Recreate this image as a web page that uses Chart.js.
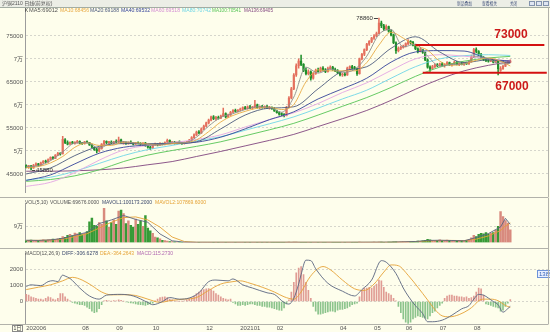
<!DOCTYPE html>
<html>
<head>
<meta charset="utf-8">
<script src="https://cdn.jsdelivr.net/npm/chart.js"></script>
<style>
  body { margin: 0; background: #fefeec; }
  #wrap { position: relative; width: 550px; height: 332px; overflow: hidden; }
  canvas { position: absolute; left: 0; }
</style>
</head>
<body>
<div id="wrap">
  <canvas id="kline" width="550" height="198" style="top:0"></canvas>
  <canvas id="vol" width="550" height="50" style="top:198px"></canvas>
  <canvas id="macd" width="550" height="84" style="top:248px"></canvas>
</div>
<script>
// daily candles, [open, high, low, close]
const ohlc = [
  [46800,47000,46300,46500],[46500,46900,46200,46800],[46700,46900,45880,46300],[46300,47100,46200,46900],[46900,47400,46800,47200],
  [47200,47300,46700,46900],[46900,47600,46800,47400],[47400,47900,47300,47800],[47800,48000,47400,47600],[47600,48300,47500,48100],
  [48100,48700,48000,48600],[48600,48800,48200,48400],[48400,49200,48300,49100],[49100,49700,49000,49500],[49500,49600,49100,49300],
  [49400,53200,49300,52500],[52400,52700,51600,51800],[51800,52200,51300,51500],[51500,52000,51400,51900],[51900,52100,51600,51700],
  [51700,52000,51500,51800],[51800,52300,51700,52100],[52100,52200,51600,51700],[51700,51900,51400,51600],[51600,52100,51500,52000],
  [52000,52200,51700,51800],[51800,51900,51200,51300],[51300,51500,50700,50800],[50800,50900,50100,50300],[50300,50600,49600,50000],
  [50000,50800,49800,50600],[50500,51600,50400,51500],[51500,52300,51400,52100],[52100,52200,51600,51800],[51800,52100,51500,51900],
  [51900,52200,51600,51700],[51700,52100,51600,52000],[52000,52400,51800,51900],[51900,53000,51800,52400],[52400,52600,51700,51800],
  [51800,52100,51500,51900],[51900,52000,51400,51600],[51600,52000,51500,51800],[51800,52200,51600,51700],[51700,51900,51300,51500],
  [51500,51900,51400,51800],[51800,52000,51500,51600],[51600,51800,51300,51400],[51400,51800,51200,51700],[51700,51900,51000,51200],
  [51200,51300,50600,50800],[50800,51000,50300,50600],[50600,51400,50500,51300],[51300,51700,51200,51500],[51500,51600,51100,51300],
  [51300,51800,51200,51600],[51600,51700,51300,51400],[51400,52000,51300,51900],[51900,52600,51800,52300],[52300,52400,51700,51800],
  [51800,52000,51600,51900],[51900,52100,51500,51600],[51600,52000,51500,51900],[51900,52200,51700,51800],[51800,51900,51400,51600],
  [51600,52000,51500,51900],[51900,52100,51700,52000],[52000,52500,51900,52300],[52300,53100,52200,52900],[52900,53700,52800,53500],
  [53500,54300,53300,54100],[54100,54400,53700,53900],[53900,55000,53800,54800],[54800,55600,54600,55400],[55400,56300,55200,56100],
  [56100,56900,55900,56700],[56700,57600,56500,57400],[57400,57700,56800,57000],[57000,57500,56700,57300],[57300,57600,56900,57100],
  [57100,57800,57000,57600],[57600,59300,57500,58100],[58100,58300,57200,57400],[57400,58000,57300,57800],[57800,58600,57700,58400],
  [58400,59000,58300,58800],[58800,59100,58400,58600],[58600,59000,58500,58900],[58900,59300,58700,59100],[59100,59600,58900,59400],
  [59400,59700,59000,59200],[59200,59800,59100,59600],[59600,59900,59200,59300],[59300,59700,59100,59500],[59500,61000,59400,60000],
  [60000,60200,59300,59400],[59400,59800,59200,59600],[59600,59900,59300,59400],[59400,59800,59200,59700],[59700,59900,59200,59300],
  [59300,59700,59100,59500],[59500,59600,59000,59200],[59200,59400,58600,58700],[58700,58900,58200,58300],[58300,58500,57800,58000],
  [58000,58300,57600,57900],[57900,58100,57400,57700],[57700,59700,57600,59500],[59500,61800,59400,61500],[61500,63800,61300,63500],
  [63500,66800,63300,66500],[66500,68900,66200,68500],[68500,70000,68000,69500],[69500,70800,68500,68800],[68800,69000,67200,67500],
  [67500,68000,66500,66800],[66800,67600,66500,67200],[67200,67400,65400,65800],[65800,67000,65600,66800],[66800,67800,66600,67500],
  [67500,68000,67100,67300],[67300,68200,67200,68000],[68000,68300,67400,67600],[67600,67900,67000,67200],[67200,68200,67100,67900],
  [67900,68500,67700,68200],[68200,68400,67500,67700],[67700,68000,67200,67400],[67400,67700,66800,67000],[67000,67200,66300,66500],
  [66500,66900,66200,66700],[66700,67000,66300,66500],[66500,68200,66400,68000],[68000,68500,67700,68300],[68300,68600,67800,68000],
  [68000,68400,67600,67900],[67900,68000,66400,66800],[66800,70200,66700,70000],[70000,71200,69800,71000],[71000,72200,70700,72000],
  [72000,73400,71800,73200],[73200,74000,72900,73800],[73800,74700,73500,74500],[74500,75300,74200,75000],[75000,75800,74800,75500],
  [75500,78860,75400,77800],[77800,78200,76800,77200],[77200,77500,76200,76500],[76500,77400,76300,77000],[77000,77100,75800,76000],
  [76000,76300,75000,75200],[75200,75400,73300,73500],[73500,73700,71200,71800],[71800,72600,71500,72300],[72300,72800,72000,72500],
  [72500,73000,72300,72800],[72800,73500,72600,73300],[73300,74200,73100,73800],[73800,74000,73200,73600],[73600,73800,72800,73000],
  [73000,73100,72000,72200],[72200,72400,71300,71600],[71600,72300,71500,72000],[72000,72100,71200,71400],[71400,71500,69600,69800],
  [69800,70000,68000,68200],[68200,68500,67300,67800],[67800,68600,67700,68300],[68300,68900,68100,68700],[68700,69000,68300,68500],
  [68500,69100,68400,68900],[68900,69200,68500,68600],[68600,68900,68200,68800],[68800,69400,68700,69200],[69200,69300,68600,68700],
  [68700,69000,68400,68900],[68900,69500,68800,69300],[69300,69400,68700,68800],[68800,69100,68500,69000],[69000,69300,68700,68800],
  [68800,69200,68600,69100],[69100,69300,68800,68900],[68900,69600,68800,69400],[69400,70800,69300,70500],[70500,72300,70400,72000],
  [72000,72400,71300,71600],[71600,71800,70800,71000],[71000,71200,70000,70200],[70200,70500,69600,69800],[69800,70100,69400,69600],
  [69600,69900,69300,69500],[69500,70100,69400,69800],[69800,69900,69100,69300],[69300,69800,69200,69500],[69500,69600,66500,67900],
  [67500,68300,67300,67900],[67900,68600,67700,68400],[68400,69200,68300,69000],[69000,69700,68900,69600],[69300,69800,69200,69500]
];

const volume = [
  9000,11000,13000,8000,10000,12000,9000,14000,12000,15000,
  16000,18000,15000,20000,22000,32000,28000,40000,45000,38000,
  52000,48000,55000,44000,50000,60000,115000,136000,95000,90000,
  110000,100000,189000,120000,85000,110000,125000,100000,175000,180000,
  160000,105000,120000,95000,85000,130000,100000,120000,90000,150000,
  80000,65000,50000,30000,25000,20000,12000,10000,8000,5000,
  4000,2500,1800,1200,900,800,700,900,600,700,
  800,600,700,500,900,700,600,800,700,600,
  700,900,600,800,700,600,900,700,800,600,
  700,800,600,900,700,800,600,700,900,700,
  800,600,700,900,800,700,600,1000,1200,900,
  1100,1300,900,800,700,800,900,700,600,800,
  700,600,800,700,900,600,700,800,600,700,
  800,700,900,600,700,800,1000,1200,900,800,
  900,1000,800,1100,900,1200,1500,1000,900,1100,
  1500,2500,3000,2000,3500,4000,3000,5000,4000,6000,
  5000,7000,6000,9000,12000,17000,14000,10000,8000,12000,
  15000,11000,9000,13000,10000,8000,11000,9000,7000,10000,
  8000,12000,14000,25000,40000,32000,45000,50000,48000,54000,
  46000,52000,55000,68000,90000,171000,144000,121000,108000,69676
];

// moving averages, sampled at knot days
const fastIdx = [0,5,10,15,20,25,30,35,40,45,50,55,60,65,70,75,80,85,90,95,100,105,110,115,120,125,130,135,140,145,150,155,160,165,170,175,180,185,190,195,199];
const ma5 = [46600,46800,47900,49800,51700,51800,50600,51800,52000,51700,51300,51300,51900,51800,53000,55400,57300,58100,59000,59600,59500,58400,61700,68200,66900,67800,67100,67700,70600,75300,76400,72600,73200,70600,68400,68800,68900,70500,70000,68900,69012];
const ma10 = [46400,46600,47400,48800,50800,51800,51200,51200,51900,51800,51500,51300,51600,51800,52400,54200,56300,57700,58600,59300,59500,59000,60100,65000,67600,67400,67400,67400,69200,73000,75800,74500,72900,71900,69500,68600,68900,69700,70200,69500,68456];

const maIdx = [0,10,20,30,40,50,60,70,80,90,100,110,120,130,140,150,160,170,180,190,199];
const ma20 = [45000,46300,49000,51000,51600,51600,51600,52000,54800,57800,59300,59600,63500,67300,68300,72300,74800,71500,69200,69800,69188];
const ma40 = [43600,44800,47200,49500,50800,51300,51600,51900,53000,54800,56800,58500,61300,63500,65800,69300,71500,71800,71700,70000,69532];
const ma60 = [42300,43200,45300,48000,50200,51200,51800,52500,53500,55200,56800,58300,60300,62700,64800,67500,70000,70900,70600,70000,69518];
const ma80 = [43700,44300,45600,47300,49000,50300,51200,52200,53100,54500,55900,57400,59300,61300,63200,65800,68300,70000,70700,70900,70742];
const ma100 = [43400,43800,44600,45900,47700,49100,50100,51000,52000,53300,54600,56000,57800,59700,61600,63800,66200,68200,69500,70200,70541];
const ma136 = [45600,45600,45700,45900,46300,47000,47700,48800,49900,51100,52300,53600,55300,57000,58800,61000,63400,65600,67400,68600,69405];

// volume averages, [day, value]
const mavol1 = [[0,12000],[5,11000],[10,14000],[15,22000],[20,40000],[25,56000],[30,105000],[35,125000],[40,150000],[45,128000],[50,112000],[55,47000],[60,9000],[65,1200],[70,700],[100,800],[130,800],[150,1500],[155,3000],[160,5000],[165,11000],[170,12000],[175,10500],[180,9000],[185,27000],[190,49000],[195,86000],[197,134000],[199,100173.2]];
const mavol2 = [[0,11000],[5,11500],[10,13000],[15,18000],[20,32000],[25,48000],[30,80000],[35,112000],[40,138000],[45,142000],[50,125000],[55,85000],[60,30000],[65,5000],[70,1000],[100,800],[130,800],[150,1000],[155,2300],[160,4000],[165,8000],[170,11000],[175,11000],[180,10000],[185,18000],[190,36000],[195,66000],[197,92000],[199,107869.6]];

// MACD(12,26,9)
const dif = [[0,950],[2,1050],[6,1000],[9,1250],[11,1310],[13,1250],[15,1660],[16,1600],[18,1450],[22,850],[26,350],[30,150],[33,400],[39,450],[44,350],[50,-60],[52,-200],[56,0],[59,250],[63,150],[67,220],[71,550],[75,1250],[78,1350],[83,1300],[85,1420],[89,1050],[93,850],[99,550],[102,450],[106,-60],[108,-160],[110,200],[112,1100],[113,1700],[115,2600],[117,2570],[119,2060],[124,1150],[130,650],[135,350],[138,750],[142,1350],[146,2570],[148,2470],[152,1760],[155,850],[157,350],[160,-260],[163,-760],[165,-1270],[167,-1270],[171,-1170],[175,-860],[179,-460],[182,-260],[184,150],[186,450],[188,400],[192,0],[194,-200],[196,-670],[198,-440],[199,-306.6278]];
const dea = [[0,750],[5,900],[10,1050],[15,1300],[19,1520],[23,1350],[27,1000],[31,600],[35,420],[40,430],[45,380],[50,150],[55,-50],[60,80],[65,150],[70,250],[75,700],[80,1100],[85,1250],[88,1300],[92,1150],[97,900],[102,600],[106,300],[110,150],[113,600],[116,1400],[119,1950],[122,2200],[125,2000],[130,1350],[135,800],[139,700],[143,1100],[147,1850],[150,2300],[153,2250],[157,1650],[161,900],[165,100],[168,-500],[171,-900],[174,-960],[178,-820],[182,-500],[184,-260],[186,50],[188,150],[191,150],[194,50],[197,-250],[199,-364.2643]];
const macdHist = [
  450,400,300,250,200,150,150,100,200,300,
  250,150,100,200,500,500,300,150,50,-50,
  -100,-150,-200,-200,-250,-350,-450,-600,-700,-650,
  -450,-200,50,80,50,30,60,40,100,80,
  20,-30,-60,-80,-100,-150,-180,-200,-220,-250,
  -200,-150,-100,50,150,250,280,300,250,150,
  100,50,30,20,30,50,100,150,250,350,
  500,600,700,750,800,810,750,650,500,400,
  300,200,150,100,150,-50,-150,-250,-250,-200,
  -250,-200,-150,-150,-200,-250,-250,-300,-300,-350,
  -350,-400,-450,-500,-550,-560,-400,-150,100,600,
  1200,1800,2100,2200,1700,1200,700,200,-300,-600,
  -800,-800,-750,-700,-650,-600,-600,-650,-550,-500,
  -500,-450,-400,-300,-200,-150,-100,300,700,850,
  850,900,850,950,1100,1350,1300,900,600,500,
  400,200,50,-300,-700,-1100,-1300,-1370,-1300,-1100,
  -1000,-900,-950,-1000,-1050,-1100,-900,-700,-600,-400,
  -250,-100,200,350,400,400,350,350,300,300,
  250,300,200,250,350,600,850,800,400,-150,
  -200,-250,-300,-350,-400,-600,-550,-300,-100,115.273
];

// support / resistance levels
const levels = [73000, 67000];

const priceTicks = [45000, 50000, 55000, 60000, 65000, 70000, 75000];
const volTicks = [90000];
const macdTicks = [0, 1000, 2000];
const monthTicks = { 0: '202006', 23: '08', 37: '09', 52: '10', 74: '12', 88: '202101', 103: '02', 129: '04', 143: '05', 156: '06', 170: '07', 184: '08' };

const SLOTS = 215; // trading days plus blank room on the right
const slotLabels = Array.from({ length: SLOTS }, (_, i) => i);
const FONT = '"Liberation Sans", "Noto Sans CJK SC", sans-serif';

const UP = '#e4705e', DOWN = '#1f8f2a';
const VOL_UP = '#d88a7e', VOL_DOWN = '#369a36';
const HIST_UP = '#e09c94', HIST_DOWN = '#8cc48c';

const maSeries = [
  { name: 'MA5', color: '#8c8c8c', idx: fastIdx, vals: ma5 },
  { name: 'MA10', color: '#e8aa45', idx: fastIdx, vals: ma10 },
  { name: 'MA20', color: '#4d5b7e', idx: maIdx, vals: ma20 },
  { name: 'MA40', color: '#34439a', idx: maIdx, vals: ma40 },
  { name: 'MA60', color: '#e3a6e3', idx: maIdx, vals: ma60 },
  { name: 'MA80', color: '#6fd6e6', idx: maIdx, vals: ma80 },
  { name: 'MA100', color: '#55c455', idx: maIdx, vals: ma100 },
  { name: 'MA136', color: '#80457f', idx: maIdx, vals: ma136 }
];
const maLegendX = [29, 60, 90, 121, 151, 182, 212, 244];

function spread(idx, vals) {
  const out = new Array(SLOTS).fill(null);
  idx.forEach((k, j) => { out[k] = vals[j]; });
  return out;
}
function spreadPairs(pairs) {
  return spread(pairs.map(p => p[0]), pairs.map(p => p[1]));
}

const isUp = ohlc.map(d => d[3] >= d[0]);

function sideAxis(min, max, ticks, fmt) {
  return {
    position: 'left', min, max,
    afterFit: s => { s.width = 25; },
    afterBuildTicks: s => { s.ticks = ticks.map(v => ({ value: v })); },
    ticks: { callback: fmt, font: { size: 6, family: FONT }, color: '#555', padding: 2 },
    grid: { color: '#d6d6cc', drawTicks: false },
    border: { display: true, color: '#9c9c9c', dash: [2, 2] }
  };
}
const wanFmt = v => (v % 10000 === 0 ? v / 10000 + '万' : String(v));

const hiddenX = { type: 'category', labels: slotLabels, offset: true, display: false };

const baseOpts = {
  responsive: false,
  animation: false,
  devicePixelRatio: 1,
  events: [],
  plugins: { legend: { display: false }, tooltip: { enabled: false } }
};

function frame(ctx, yTop, yBottom) {
  ctx.strokeStyle = '#b2b2aa';
  ctx.lineWidth = 1;
  ctx.beginPath();
  if (yBottom !== null) { ctx.moveTo(0, yBottom); ctx.lineTo(548, yBottom); }
  ctx.moveTo(548.5, yTop); ctx.lineTo(548.5, yBottom === null ? 84 : yBottom);
  ctx.stroke();
}

// ---------- price panel ----------
const klineDecor = {
  id: 'klineDecor',
  beforeDraw(chart) {
    const ctx = chart.ctx;
    ctx.save();
    ctx.fillStyle = '#eceee6';
    ctx.fillRect(0, 0, 550, 7);
    ctx.strokeStyle = '#a3ada3';
    ctx.beginPath(); ctx.moveTo(0, 7.5); ctx.lineTo(550, 7.5); ctx.stroke();
    ctx.font = '5px ' + FONT;
    ctx.textBaseline = 'middle';
    ctx.fillStyle = '#555';
    ctx.fillText('沪铜2110 日线(前复权)', 2, 3.6, 54);
    ctx.fillStyle = '#3f4f7a';
    [['新品叠加', 457, 15], ['查看相关', 482, 15], ['关闭', 510, 7]].forEach(([t, x, w]) => ctx.fillText(t, x, 3.6, w));
    ctx.strokeStyle = '#8393ad';
    ctx.fillStyle = '#dfe6f2';
    [529, 536, 543].forEach(x => { ctx.fillRect(x + 0.5, 1.5, 5, 4); ctx.strokeRect(x + 0.5, 1.5, 5, 4); });
    ctx.restore();
  },
  afterDraw(chart) {
    const { ctx, scales: { x, y } } = chart;
    ctx.save();
    ctx.textBaseline = 'middle';
    ctx.font = '6px ' + FONT;
    ctx.fillStyle = '#222';
    ctx.fillText('K', 25, 10.8, 3);
    maSeries.forEach((s, i) => {
      ctx.fillStyle = s.color === '#e3a6e3' ? '#d48fd4' : s.color === '#8c8c8c' ? '#555' : s.color;
      ctx.fillText(s.name + ':' + s.vals[s.vals.length - 1], maLegendX[i], 10.8, 29);
    });

    // highest high and lowest low
    let hi = 0, lo = 0;
    ohlc.forEach((d, i) => { if (d[1] > ohlc[hi][1]) hi = i; if (d[2] < ohlc[lo][2]) lo = i; });
    ctx.strokeStyle = '#444';
    ctx.fillStyle = '#333';
    let px = x.getPixelForValue(hi), py = Math.round(y.getPixelForValue(ohlc[hi][1])) + 0.5;
    ctx.beginPath(); ctx.moveTo(px - 5, py); ctx.lineTo(px - 1, py); ctx.stroke();
    ctx.textAlign = 'right';
    ctx.fillText(String(ohlc[hi][1]), px - 6, py);
    px = x.getPixelForValue(lo); py = Math.round(y.getPixelForValue(ohlc[lo][2])) + 0.5;
    ctx.beginPath(); ctx.moveTo(px + 1, py); ctx.lineTo(px + 4, py); ctx.stroke();
    ctx.textAlign = 'left';
    ctx.fillText(String(ohlc[lo][2]), px + 5, py);

    // level captions
    ctx.font = 'bold 12px "Liberation Sans", sans-serif';
    ctx.textAlign = 'center';
    ctx.fillStyle = '#cc1a1a';
    ctx.fillText(String(levels[0]), 511, y.getPixelForValue(levels[0]) - 10);
    ctx.fillText(String(levels[1]), 512, y.getPixelForValue(levels[1]) + 14);

    frame(ctx, 7, 197.5);
    ctx.restore();
  }
};

new Chart(document.getElementById('kline'), {
  type: 'bar',
  data: {
    labels: slotLabels,
    datasets: [
      {
        data: ohlc.map(d => [d[2], d[1]]),
        backgroundColor: isUp.map(u => (u ? UP : DOWN)),
        barThickness: 0.9, grouped: false, order: 3
      },
      {
        data: ohlc.map(d => [d[0], d[3]]),
        backgroundColor: isUp.map(u => (u ? UP : DOWN)),
        barThickness: 1.5, minBarLength: 1, grouped: false, order: 2
      },
      ...maSeries.map(s => ({
        type: 'line', data: spread(s.idx, s.vals), borderColor: s.color, borderWidth: 0.9,
        pointRadius: 0, spanGaps: true, cubicInterpolationMode: 'monotone', order: 1
      })),
      { type: 'line', data: spread([160, 213], [levels[0], levels[0]]), borderColor: '#d41010', borderWidth: 2, pointRadius: 0, spanGaps: true, order: 0 },
      { type: 'line', data: spread([163, 214], [levels[1], levels[1]]), borderColor: '#d41010', borderWidth: 2, pointRadius: 0, spanGaps: true, order: 0 }
    ]
  },
  options: {
    ...baseOpts,
    layout: { padding: { top: 8, right: 2, left: 0, bottom: 0 } },
    scales: { x: hiddenX, y: sideAxis(41000, 81050, priceTicks, wanFmt) }
  },
  plugins: [klineDecor]
});

// ---------- volume panel ----------
const volDecor = {
  id: 'volDecor',
  afterDraw(chart) {
    const ctx = chart.ctx;
    ctx.save();
    ctx.textBaseline = 'middle';
    ctx.font = '6px ' + FONT;
    const items = [
      ['VOL(5,10)', 25, 23, '#555'],
      ['VOLUME:' + volume[volume.length - 1].toFixed(4), 50, 49, '#555'],
      ['MAVOL1:' + mavol1[mavol1.length - 1][1].toFixed(4), 102, 50, '#39476b'],
      ['MAVOL2:' + mavol2[mavol2.length - 1][1].toFixed(4), 155, 51, '#e5a235']
    ];
    items.forEach(([t, x, w, c]) => { ctx.fillStyle = c; ctx.fillText(t, x, 4.5, w); });
    frame(ctx, 0, null);
    ctx.restore();
  }
};

new Chart(document.getElementById('vol'), {
  type: 'bar',
  data: {
    labels: slotLabels,
    datasets: [
      {
        data: volume,
        backgroundColor: isUp.map(u => (u ? VOL_UP : VOL_DOWN)),
        barThickness: 1.8, order: 2
      },
      { type: 'line', data: spreadPairs(mavol1), borderColor: '#5a6580', borderWidth: 0.9, pointRadius: 0, spanGaps: true, order: 1 },
      { type: 'line', data: spreadPairs(mavol2), borderColor: '#e5a235', borderWidth: 0.9, pointRadius: 0, spanGaps: true, order: 1 }
    ]
  },
  options: {
    ...baseOpts,
    layout: { padding: { top: 1, right: 2, left: 0, bottom: 1 } },
    scales: { x: hiddenX, y: sideAxis(0, 216000, volTicks, wanFmt) }
  },
  plugins: [volDecor]
});

// ---------- MACD panel ----------
const macdDecor = {
  id: 'macdDecor',
  afterDraw(chart) {
    const ctx = chart.ctx;
    ctx.save();
    ctx.strokeStyle = '#b2b2aa';
    ctx.beginPath(); ctx.moveTo(0, 0.5); ctx.lineTo(548, 0.5); ctx.stroke();
    ctx.textBaseline = 'middle';
    ctx.font = '6px ' + FONT;
    const items = [
      ['MACD(12,26,9)', 25, 35, '#555'],
      ['DIFF:' + dif[dif.length - 1][1].toFixed(4), 62, 36, '#39476b'],
      ['DEA:' + dea[dea.length - 1][1].toFixed(4), 100, 34, '#e5a235'],
      ['MACD:' + macdHist[macdHist.length - 1].toFixed(4), 137, 36, '#b066b0']
    ];
    items.forEach(([t, x, w, c]) => { ctx.fillStyle = c; ctx.fillText(t, x, 5, w); });

    // period selector and value tag
    ctx.strokeStyle = '#8a8a8a';
    ctx.strokeRect(12.5, 77.5, 10, 6);
    ctx.fillStyle = '#444';
    ctx.fillText('1日', 13.5, 80.8, 8);
    ctx.strokeStyle = '#6d93d8';
    ctx.fillStyle = '#e9f0ff';
    ctx.fillRect(537.5, 22.5, 14, 7);
    ctx.strokeRect(537.5, 22.5, 14, 7);
    ctx.fillStyle = '#3563b8';
    ctx.fillText('1389', 539, 26.2);

    frame(ctx, 0, 76.5);
    ctx.restore();
  }
};

new Chart(document.getElementById('macd'), {
  type: 'bar',
  data: {
    labels: slotLabels,
    datasets: [
      {
        data: macdHist,
        backgroundColor: macdHist.map(v => (v >= 0 ? HIST_UP : HIST_DOWN)),
        barThickness: 1, order: 2
      },
      { type: 'line', data: spreadPairs(dif), borderColor: '#5a6580', borderWidth: 0.9, pointRadius: 0, spanGaps: true, cubicInterpolationMode: 'monotone', order: 1 },
      { type: 'line', data: spreadPairs(dea), borderColor: '#e5a235', borderWidth: 0.9, pointRadius: 0, spanGaps: true, cubicInterpolationMode: 'monotone', order: 1 }
    ]
  },
  options: {
    ...baseOpts,
    layout: { padding: { top: 3, right: 2, left: 0, bottom: 0 } },
    scales: {
      x: {
        type: 'category', labels: slotLabels, offset: true,
        afterFit: s => { s.height = 8; },
        grid: { display: false, drawTicks: false },
        border: { display: false },
        ticks: {
          autoSkip: false, maxRotation: 0, minRotation: 0, align: 'start', padding: 1,
          font: { size: 6, family: FONT }, color: '#555',
          callback: (v, i) => monthTicks[i] || ''
        }
      },
      y: sideAxis(-1412, 3012, macdTicks, v => String(v))
    }
  },
  plugins: [macdDecor]
});
</script>
</body>
</html>
